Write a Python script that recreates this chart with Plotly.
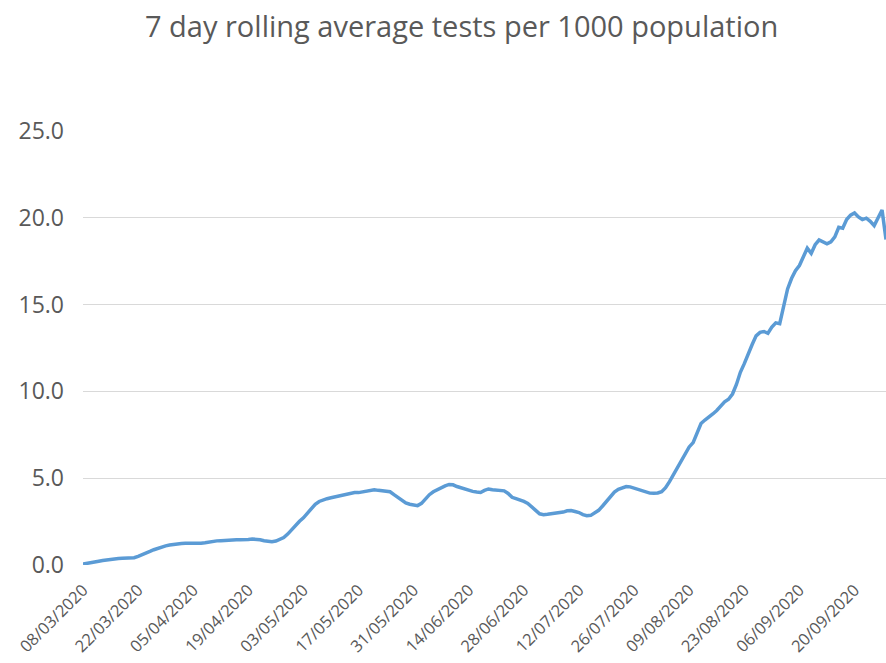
import pandas as pd
import plotly.graph_objects as go

# Daily dates, 8 March to 28 September 2020
start_date = "2020-03-08"
end_date = "2020-09-28"
dates = pd.date_range(start_date, end_date, freq="D")

# 7 day rolling average tests per 1000 population (one value per day)
tests_per_1000 = [
    0.05, 0.08, 0.12, 0.17, 0.22, 0.26, 0.30, 0.34, 0.36, 0.38,
    0.39, 0.40, 0.39, 0.42, 0.50, 0.58, 0.68, 0.78, 0.88, 0.97,
    1.04, 1.10, 1.15, 1.19, 1.22, 1.24, 1.25, 1.24, 1.23, 1.22,
    1.25, 1.28, 1.33, 1.37, 1.39, 1.40, 1.40, 1.42, 1.43, 1.45,
    1.46, 1.44, 1.47, 1.50, 1.49, 1.45, 1.40, 1.36, 1.34, 1.38,
    1.46, 1.58, 1.78, 2.05, 2.30, 2.52, 2.72, 2.98, 3.25, 3.50,
    3.66, 3.75, 3.82, 3.87, 3.92, 3.98, 4.03, 4.05, 4.15, 4.18,
    4.17, 4.22, 4.28, 4.32, 4.34, 4.30, 4.26, 4.25, 4.22, 4.05,
    3.88, 3.72, 3.58, 3.50, 3.44, 3.42, 3.55, 3.80, 4.05, 4.22,
    4.35, 4.48, 4.56, 4.64, 4.62, 4.52, 4.44, 4.36, 4.30, 4.24,
    4.20, 4.18, 4.30, 4.38, 4.33, 4.32, 4.28, 4.27, 4.12, 3.90,
    3.82, 3.75, 3.66, 3.55, 3.38, 3.15, 2.95, 2.90, 2.92, 2.95,
    2.97, 3.00, 3.05, 3.12, 3.14, 3.08, 3.02, 2.90, 2.84, 2.86,
    2.98, 3.15, 3.40, 3.68, 3.90, 4.20, 4.36, 4.46, 4.52, 4.50,
    4.42, 4.34, 4.28, 4.18, 4.14, 4.13, 4.15, 4.22, 4.45, 4.80,
    5.20, 5.65, 6.10, 6.50, 6.80, 7.05, 7.60, 8.15, 8.35, 8.50,
    8.70, 8.90, 9.15, 9.40, 9.55, 9.85, 10.40, 11.10, 11.60, 12.20,
    12.70, 13.20, 13.40, 13.45, 13.35, 13.70, 13.95, 13.90, 14.90, 15.90,
    16.50, 16.95, 17.25, 17.70, 18.25, 17.95, 18.45, 18.72, 18.60, 18.50,
    18.62, 18.90, 19.45, 19.40, 19.90, 20.15, 20.28, 20.05, 19.90, 19.98,
    19.80, 19.55, 20.00, 20.45, 18.75,
]

# Fortnightly date ticks
tick_dates = pd.date_range(start_date, "2020-09-20", freq="14D")
y_ticks = [0, 5, 10, 15, 20, 25]

TEXT = "#595959"
GRID = "#D9D9D9"
LINE = "#5B9BD5"

fig = go.Figure(
    go.Scatter(
        x=dates,
        y=tests_per_1000,
        mode="lines",
        line=dict(color=LINE, width=3.5),
        hoverinfo="x+y",
    )
)

fig.update_layout(
    width=886,
    height=663,
    paper_bgcolor="white",
    plot_bgcolor="white",
    showlegend=False,
    margin=dict(l=83, r=0, t=131, b=98),
    font=dict(family="Open Sans", color=TEXT),
    title=dict(
        text="7 day rolling average tests per 1000 population",
        font=dict(family="Open Sans", size=29, color=TEXT),
        xref="container",
        yref="container",
        x=0.521,
        y=0.959,
        xanchor="center",
        yanchor="middle",
    ),
)

fig.update_xaxes(
    range=[dates[0], dates[-1]],
    tickvals=tick_dates,
    tickformat="%d/%m/%Y",
    tickangle=-45,
    tickfont=dict(size=16.5, color=TEXT),
    showgrid=False,
    zeroline=False,
    showline=False,
    ticks="outside",
    ticklen=8,
    tickcolor="rgba(0,0,0,0)",
)

fig.update_yaxes(
    range=[0, 25],
    tickvals=y_ticks,
    tickformat=".1f",
    tickfont=dict(size=23, color=TEXT),
    showgrid=True,
    gridcolor=GRID,
    gridwidth=1,
    zeroline=False,
    showline=False,
    ticks="",
    ticklabelstandoff=18,
)

fig.write_html("out.html")
